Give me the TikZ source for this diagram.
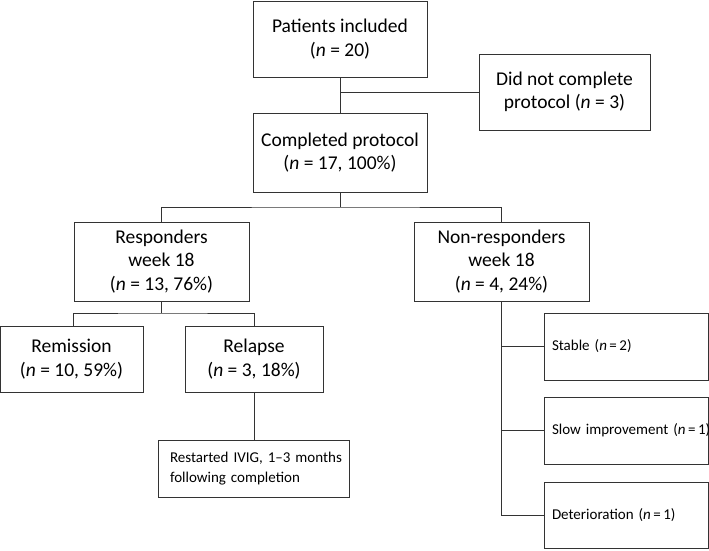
\documentclass[tikz,border=0pt]{standalone}
\usepackage{fontspec}
\setmainfont{Carlito}
\begin{document}
\begin{tikzpicture}[x=1pt,y=-1pt,
  box/.style={draw=black!80,line width=0.9pt,rectangle,inner sep=0pt,align=center,font=\fontsize{19.5}{23.5}\selectfont},
  sbox/.style={draw=black!80,line width=0.9pt,rectangle,inner sep=0pt,align=left,font=\fontsize{15}{20}\selectfont},
  conn/.style={draw=black!80,line width=0.9pt}]
\useasboundingbox (0,0) rectangle (709,550);
% boxes: positioned by center, sizes
\node[box,minimum width=174pt,minimum height=76pt] (pat) at (340,39) {Patients included\\(\textit{n} = 20)};
\node[box,minimum width=171pt,minimum height=76pt] (dnc) at (564.5,92) {Did not complete\\protocol (\textit{n} = 3)};
\node[box,minimum width=174pt,minimum height=79pt] (cp) at (340,152.5) {Completed protocol\\(\textit{n} = 17, 100\%)};
\node[box,minimum width=175pt,minimum height=79pt] (resp) at (161.5,261.5) {Responders\\week 18\\(\textit{n} = 13, 76\%)};
\node[box,minimum width=175pt,minimum height=79pt] (nonr) at (501.5,261.5) {Non-responders\\week 18\\(\textit{n} = 4, 24\%)};
\node[box,minimum width=143pt,minimum height=66pt] (rem) at (71.5,359) {Remission\\(\textit{n} = 10, 59\%)};
\node[box,minimum width=138pt,minimum height=66pt] (rel) at (254,359) {Relapse\\(\textit{n} = 3, 18\%)};
\node[sbox,minimum width=191pt,minimum height=57pt,text width=167pt] (ivig) at (253.5,468.5) {\mbox{Restarted IVIG, 1--3 months}\\\mbox{following completion}};
\node[sbox,minimum width=164pt,minimum height=67pt,text width=148pt] (stab) at (626,346.5) {\mbox{Stable (\textit{n}\,=\,2)}};
\node[sbox,minimum width=164pt,minimum height=67pt,text width=148pt] (slow) at (626,430.5) {\mbox{Slow improvement (\textit{n}\,=\,1)}};
\node[sbox,minimum width=164pt,minimum height=66pt,text width=148pt] (det) at (626,515) {\mbox{Deterioration (\textit{n}\,=\,1)}};
% connectors
\coordinate (j1) at (pat.south |- dnc.west);
\draw[conn] (pat.south) -- (cp.north);
\draw[conn] (j1) -- (dnc.west);
\coordinate (j2) at (340,207);
\draw[conn] (cp.south) -- (j2);
\draw[conn] (resp.north) |- (j2) -| (nonr.north);
\coordinate (j3) at (161.5,313);
\draw[conn] (resp.south) -- (j3);
\draw[conn] (rem.north -| 73,0) |- (j3) -| (rel.north);
\draw[conn] (rel.south) -- (rel.south |- ivig.north);
\coordinate (j4) at (nonr.south |- det.west);
\draw[conn] (nonr.south) -- (j4) -- (det.west);
\draw[conn] (nonr.south |- stab.west) -- (stab.west);
\draw[conn] (nonr.south |- slow.west) -- (slow.west);
\end{tikzpicture}
\end{document}
